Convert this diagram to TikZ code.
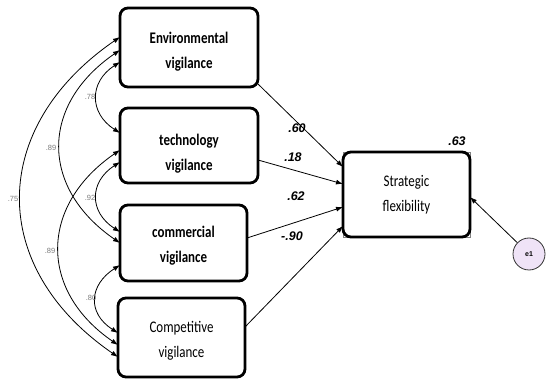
\documentclass[tikz,border=0pt]{standalone}
\usepackage{fontspec}
\setmainfont[FakeStretch=0.8]{Carlito}
\newfontfamily\numfont{Liberation Sans}
\usetikzlibrary{arrows.meta,backgrounds}
\definecolor{errfill}{HTML}{EFE3F7}
\definecolor{covgray}{HTML}{7A7A7A}
% invisible strut that pushes a box's text block downwards
\newcommand{\lowerby}[1]{\rule{0pt}{#1}}
\begin{document}
\begin{tikzpicture}[x=1pt,y=-1pt,
  varbox/.style={draw=black, line width=2.8pt, rounded corners=8pt, fill=white,
    align=center, inner sep=0pt, outer sep=0pt,
    font=\fontsize{16.2}{25}\selectfont},
  path/.style={line width=0.8pt, -{Latex[length=7pt,width=5pt]}},
  cov/.style={line width=0.8pt, {Latex[length=7pt,width=5pt]}-{Latex[length=7pt,width=5pt]}},
  coef/.style={font=\numfont\bfseries\itshape\fontsize{12.5}{13}\selectfont},
  covlab/.style={font=\numfont\fontsize{7.5}{8}\selectfont, text=covgray},
]
\useasboundingbox (0,0) rectangle (546,379);

% observed variables
\node[varbox, minimum width=138pt, minimum height=79pt] (env) at (189,47.5)
  {\lowerby{20pt}\bfseries Environmental\\\bfseries vigilance};
\node[varbox, minimum width=138pt, minimum height=75pt] (tech) at (189,145.5)
  {\lowerby{27pt}\bfseries technology\\\bfseries vigilance};
\node[varbox, minimum width=127pt, minimum height=76pt] (comm) at (183.5,243)
  {\lowerby{17pt}\bfseries commercial\\\bfseries vigilance};
\node[varbox, minimum width=127pt, minimum height=79pt] (comp) at (181.5,337.5)
  {\lowerby{17pt}Competitive\\vigilance};
\node[varbox, minimum width=127pt, minimum height=85pt] (strat) at (406.5,194.5)
  {Strategic\\flexibility};
\begin{scope}[on background layer]
  \draw[gray, line width=0.7pt] (strat.south west) rectangle (strat.north east);
\end{scope}

% error term
\node[circle, draw=black!80, line width=0.8pt, fill=errfill, minimum size=32pt, inner sep=0pt,
  font=\numfont\bfseries\fontsize{7}{8}\selectfont] (e1) at (529,254) {e1};

% regression paths
\draw[path] (env.east |- 0,84)   -- (strat.west |- 0,167);
\draw[path] (tech.east |- 0,160) -- (strat.west |- 0,184);
\draw[path] (comm.east |- 0,238) -- (strat.west |- 0,207);
\draw[path] (comp.east |- 0,327) -- (strat.west |- 0,226);
\draw[path] (e1) -- (strat.east |- 0,197);

% covariances
\draw[cov] (env.west |- 0,37)   .. controls +(-131,90) and +(-131,-90) .. (comp.west |- 0,357);
\draw[cov] (env.west |- 0,50)   .. controls +(-80,55)  and +(-80,-55)  .. (comm.west |- 0,243);
\draw[cov] (tech.west |- 0,150) .. controls +(-80,55)  and +(-80,-55)  .. (comp.west |- 0,345);
\draw[cov] (env.west |- 0,62)   .. controls +(-31,20)  and +(-31,-20)  .. (tech.west |- 0,133);
\draw[cov] (tech.west |- 0,162) .. controls +(-31,20)  and +(-31,-20)  .. (comm.west |- 0,232);
\draw[cov] (comm.west |- 0,265) .. controls +(-31,20)  and +(-31,-20)  .. (comp.west |- 0,333);

% coefficients
\node[coef] (c1) at (297,128) {.60};
\node[coef] (c2) at (293,157) {.18};
\node[coef] (c3) at (296,196) {.62};
\node[coef] (c4) at (292,236) {-.90};
\node[coef] (r2) at (457,141) {.63};

\node[covlab] (k1) at (90,97)  {.78};
\node[covlab] (k2) at (51,148) {.89};
\node[covlab] (k3) at (13,199) {.75};
\node[covlab] (k4) at (90,198) {.92};
\node[covlab] (k5) at (50,251) {.89};
\node[covlab] (k6) at (91,298) {.80};
\end{tikzpicture}
\end{document}
